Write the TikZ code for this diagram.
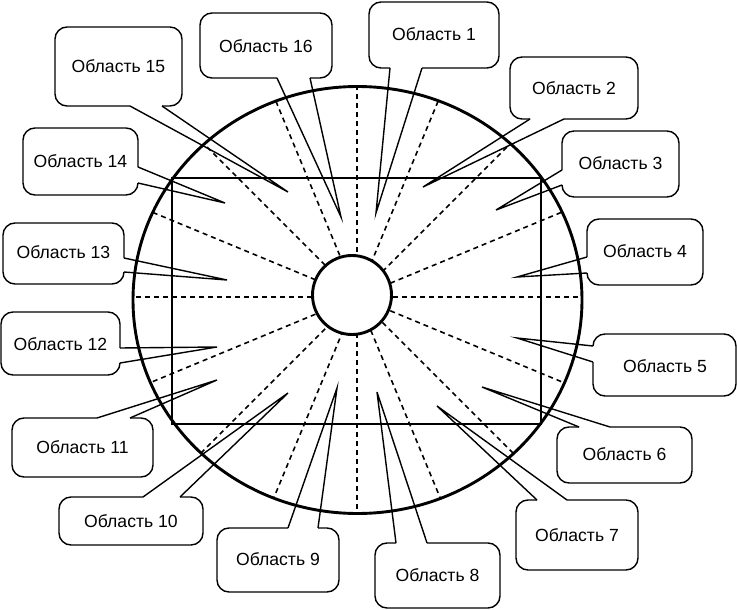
\documentclass[tikz,border=0pt]{standalone}
\usepackage{fontspec}
\setmainfont{Liberation Sans}
% callout with pointer on the bottom edge: L T R B b1 b2 tip
\newcommand\calB[7]{%
  \draw[callout, rounded corners=12pt] (#6,#4) -- (#3,#4) -- (#3,#2) -- (#1,#2) -- (#1,#4) -- (#5,#4);
  \draw[callout] (#5,#4) -- (#7) -- (#6,#4);}
% pointer on the top edge
\newcommand\calT[7]{%
  \draw[callout, rounded corners=12pt] (#6,#2) -- (#3,#2) -- (#3,#4) -- (#1,#4) -- (#1,#2) -- (#5,#2);
  \draw[callout] (#5,#2) -- (#7) -- (#6,#2);}
% pointer on the left edge
\newcommand\calL[7]{%
  \draw[callout, rounded corners=12pt] (#1,#5) -- (#1,#2) -- (#3,#2) -- (#3,#4) -- (#1,#4) -- (#1,#6);
  \draw[callout] (#1,#5) -- (#7) -- (#1,#6);}
% pointer on the right edge
\newcommand\calR[7]{%
  \draw[callout, rounded corners=12pt] (#3,#5) -- (#3,#2) -- (#1,#2) -- (#1,#4) -- (#3,#4) -- (#3,#6);
  \draw[callout] (#3,#5) -- (#7) -- (#3,#6);}
\begin{document}
\begin{tikzpicture}[x=1pt,y=-1pt,
  thickline/.style={line width=2.9pt},
  ray/.style={line width=1.6pt, dash pattern=on 5pt off 4pt},
  callout/.style={line width=1.4pt, line join=miter},
  lbl/.style={font=\fontsize{17.6}{20}\selectfont, inner sep=0pt}]
\useasboundingbox (0,0) rectangle (737,610);

% radial dashed lines, clipped to the big ellipse
\begin{scope}
  \clip (357.5,300) ellipse [x radius=224.5, y radius=213.5];
  \foreach \a in {0,22.5,...,337.5}
    \draw[ray] (357,297) -- ++(\a:320);
\end{scope}

% big ellipse and inscribed rectangle
\draw[thickline] (357.5,300) ellipse [x radius=224.5, y radius=213.5];
\draw[thickline] (172,178) rectangle (541,424);

% small central circle
\node[draw, circle, line width=2.9pt, fill=white, minimum size=79pt, inner sep=0pt] (hub) at (352,295) {};

% pointer tips
\coordinate (t1) at (376,213);
\coordinate (t2) at (423,187);
\coordinate (t3) at (496,210);
\coordinate (t4) at (517,277);
\coordinate (t5) at (517,338);
\coordinate (t6) at (482,387);
\coordinate (t7) at (437,406);
\coordinate (t8) at (377,392);
\coordinate (t9) at (337,388);
\coordinate (t10) at (288,393);
\coordinate (t11) at (217,380);
\coordinate (t12) at (217,347);
\coordinate (t13) at (227,280);
\coordinate (t14) at (225,203);
\coordinate (t15) at (288,192);
\coordinate (t16) at (341,217);

% callouts
\calB{369}{2}{499}{68}{390}{422}{t1}
\calB{510}{57}{638}{119}{530}{564}{t2}
\calL{562}{131}{679}{197}{170}{185}{t3}
\calL{587}{219}{703}{285}{257}{273}{t4}
\calL{593}{334}{736}{396}{346}{362}{t5}
\calT{557}{427}{692}{483}{579}{610}{t6}
\calT{516}{500}{638}{570}{537}{567}{t7}
\calT{375}{543}{500}{608}{396}{427}{t8}
\calT{217}{528}{339}{592}{288}{318}{t9}
\calT{59}{497}{203}{545}{143}{180}{t10}
\calT{12}{418}{153}{477}{97}{130}{t11}
\calR{1}{312}{120}{375}{348}{363}{t12}
\calR{3}{223}{124}{284}{258}{272}{t13}
\calR{23}{128}{138}{195}{167}{183}{t14}
\calB{55}{27}{182}{106}{130}{162}{t15}
\calB{200}{13}{332}{78}{277}{310}{t16}

% labels
\node[lbl] (l1) at (434,34) {Область 1};
\node[lbl] (l2) at (574,88) {Область 2};
\node[lbl] (l3) at (620.5,163) {Область 3};
\node[lbl] (l4) at (645,251) {Область 4};
\node[lbl] (l5) at (665,366) {Область 5};
\node[lbl] (l6) at (624.5,454) {Область 6};
\node[lbl] (l7) at (577,535) {Область 7};
\node[lbl] (l8) at (437.5,575) {Область 8};
\node[lbl] (l9) at (278,559) {Область 9};
\node[lbl] (l10) at (131,521) {Область 10};
\node[lbl] (l11) at (82.5,447) {Область 11};
\node[lbl] (l12) at (60.5,344) {Область 12};
\node[lbl] (l13) at (63.5,252) {Область 13};
\node[lbl] (l14) at (80.5,161) {Область 14};
\node[lbl] (l15) at (118.5,66) {Область 15};
\node[lbl] (l16) at (266,46) {Область 16};
\end{tikzpicture}
\end{document}
